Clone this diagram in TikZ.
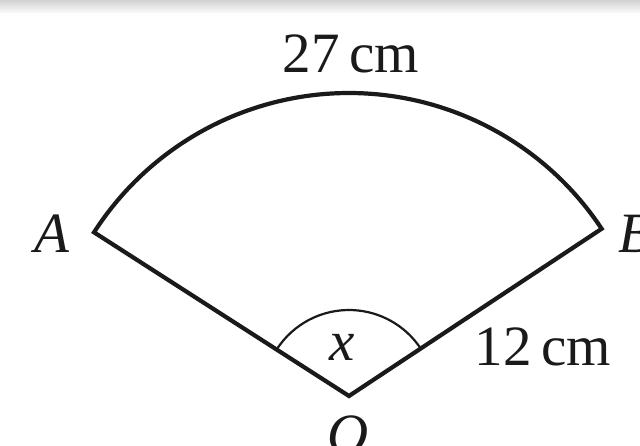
\documentclass[tikz,border=0pt]{standalone}
\usepackage{fontspec}
\setmainfont{Liberation Serif}
\usetikzlibrary{calc}
\definecolor{ink}{HTML}{1A1A1A}
\begin{document}
\begin{tikzpicture}[x=1pt,y=1pt,
  edge/.style={draw=ink, line width=4.2pt, line join=miter},
  anglearc/.style={draw=ink, line width=2.2pt},
  lbl/.style={text=ink, font=\fontsize{57}{60}\selectfont, inner sep=0pt, anchor=base}]
\useasboundingbox (0,0) rectangle (640,445);
\clip (0,0) rectangle (640,445);
\fill[white] (0,0) rectangle (640,445);
\shade[top color=black!18, bottom color=white] (0,431) rectangle (640,445);
\coordinate (O) at (349,49);
\coordinate (A) at ($(O)+(147.3:303)$);
\coordinate (B) at ($(O)+(33.5:303)$);
\coordinate (xa) at ($(O)+(147.3:86)$);
\draw[edge] (A) arc[start angle=147.3, end angle=33.5, radius=303pt] -- (O) -- cycle;
\draw[anglearc] (xa) arc[start angle=147.3, end angle=33.5, radius=86pt];
\node[lbl] (l27) at (351,372) {27\,cm};
\node[lbl] (l12) at (543,80) {12\,cm};
\node[lbl] (lx) at (342,85) {\itshape x};
\node[lbl] (lA) at (52,193) {\itshape A};
\node[lbl] (lB) at (636,193) {\itshape B};
\node[lbl] (lO) at (348,-8) {\itshape O};
\end{tikzpicture}
\end{document}
